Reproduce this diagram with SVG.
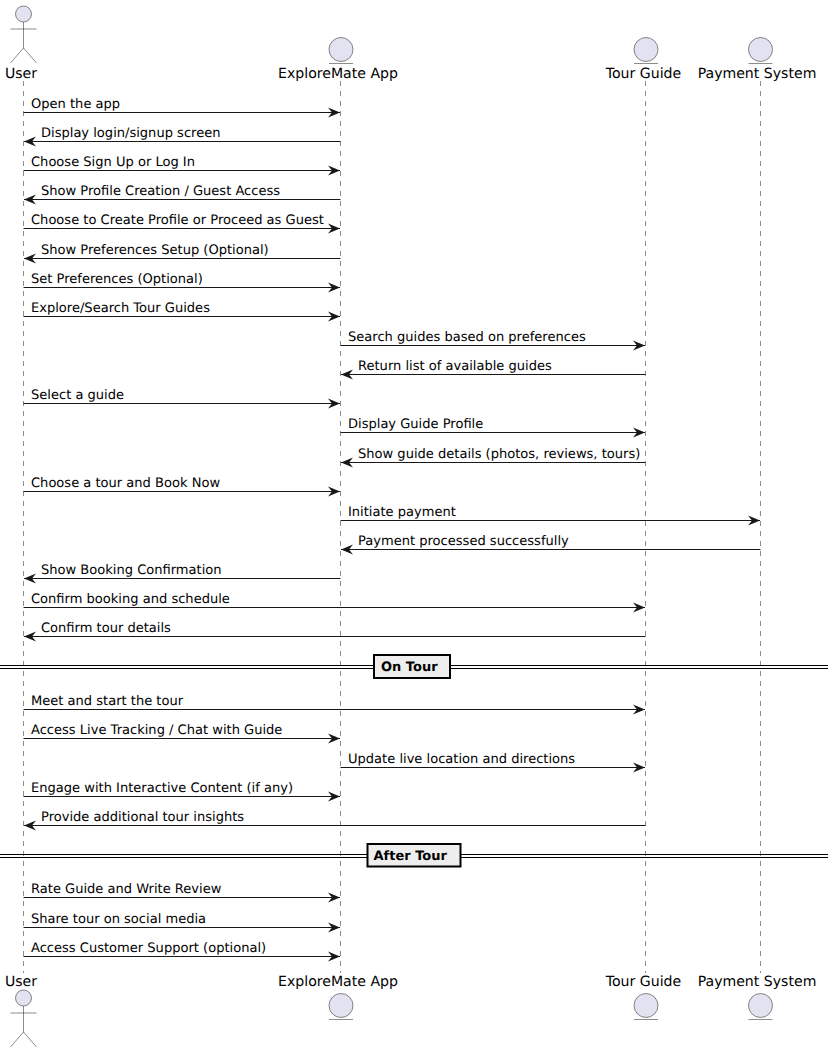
<svg xmlns="http://www.w3.org/2000/svg" width="833" height="1053" viewBox="0 0 833 1053">
<style>
text{font-family:"DejaVu Sans",sans-serif;fill:#000;text-rendering:geometricPrecision}
.m{font-size:13.050px}
.p{font-size:14.100px;text-anchor:middle}
.b{font-size:13px;font-weight:bold}
.life{stroke:#181818;stroke-width:.5;stroke-dasharray:5 5;fill:none}
.fig{fill:#E2E2F0;stroke:#181818;stroke-width:.5}
.msg{stroke:#181818;stroke-width:1;fill:none;marker-end:url(#arrow)}
.rule{stroke:#000;stroke-width:1;fill:none}
.div{fill:#EEEEEE;stroke:#000;stroke-width:2}
</style>
<defs>
<marker id="arrow" markerUnits="userSpaceOnUse" markerWidth="13" markerHeight="11" refX="12" refY="5" orient="auto" overflow="visible"><path d="M0 0L12 5L0 10L4 5Z" fill="#181818"/></marker>
<g id="actor"><circle class="fig" cx="23.5" cy="14" r="8"/><path class="fig" style="fill:none" d="M23.5 22V48M10.5 29H36.5M23.5 48L10.5 63M23.5 48L36.5 63"/></g>
<g id="entity"><circle class="fig" cx="0" cy="0" r="12"/><path class="fig" style="fill:none" d="M-12 14H12"/></g>
</defs>
<g id="lifelines">
<path class="life" d="M23.5 81V973M340.5 81V973M645.5 81V973M760.5 81V973"/>
</g>
<g id="connectors">
<path class="msg" d="M23.5 112.500H340"/>
<path class="msg" d="M340.500 141.500H24"/>
<path class="msg" d="M23.5 170.500H340"/>
<path class="msg" d="M340.500 199.500H24"/>
<path class="msg" d="M23.5 228.500H340"/>
<path class="msg" d="M340.500 258.500H24"/>
<path class="msg" d="M23.5 287.500H340"/>
<path class="msg" d="M23.5 316.500H340"/>
<path class="msg" d="M340.500 345.500H645"/>
<path class="msg" d="M645.500 374.500H341"/>
<path class="msg" d="M23.5 403.500H340"/>
<path class="msg" d="M340.500 432.500H645"/>
<path class="msg" d="M645.500 462.500H341"/>
<path class="msg" d="M23.5 491.500H340"/>
<path class="msg" d="M340.500 520.500H760"/>
<path class="msg" d="M760.500 549.500H341"/>
<path class="msg" d="M340.500 578.500H24"/>
<path class="msg" d="M23.5 607.500H645"/>
<path class="msg" d="M645.500 636.500H24"/>
<path class="msg" d="M23.5 709.500H645"/>
<path class="msg" d="M23.5 738.500H340"/>
<path class="msg" d="M340.500 767.500H645"/>
<path class="msg" d="M23.5 796.500H340"/>
<path class="msg" d="M645.500 825.500H24"/>
<path class="msg" d="M23.5 897.500H340"/>
<path class="msg" d="M23.5 927.500H340"/>
<path class="msg" d="M23.5 956.500H340"/>
</g>
<g id="labels">
<text class="m" x="31" y="107.700">Open the app</text>
<text class="m" x="41" y="136.700">Display login/signup screen</text>
<text class="m" x="31" y="165.700">Choose Sign Up or Log In</text>
<text class="m" x="41" y="194.700">Show Profile Creation / Guest Access</text>
<text class="m" x="31" y="223.700">Choose to Create Profile or Proceed as Guest</text>
<text class="m" x="41" y="253.700">Show Preferences Setup (Optional)</text>
<text class="m" x="31" y="282.700">Set Preferences (Optional)</text>
<text class="m" x="31" y="311.700">Explore/Search Tour Guides</text>
<text class="m" x="348" y="340.700">Search guides based on preferences</text>
<text class="m" x="358" y="369.700">Return list of available guides</text>
<text class="m" x="31" y="398.700">Select a guide</text>
<text class="m" x="348" y="427.700">Display Guide Profile</text>
<text class="m" x="358" y="457.700">Show guide details (photos, reviews, tours)</text>
<text class="m" x="31" y="486.700">Choose a tour and Book Now</text>
<text class="m" x="348" y="515.700">Initiate payment</text>
<text class="m" x="358" y="544.700">Payment processed successfully</text>
<text class="m" x="41" y="573.700">Show Booking Confirmation</text>
<text class="m" x="31" y="602.700">Confirm booking and schedule</text>
<text class="m" x="41" y="631.700">Confirm tour details</text>
<text class="m" x="31" y="704.700">Meet and start the tour</text>
<text class="m" x="31" y="733.700">Access Live Tracking / Chat with Guide</text>
<text class="m" x="348" y="762.700">Update live location and directions</text>
<text class="m" x="31" y="791.700">Engage with Interactive Content (if any)</text>
<text class="m" x="41" y="820.700">Provide additional tour insights</text>
<text class="m" x="31" y="892.700">Rate Guide and Write Review</text>
<text class="m" x="31" y="922.700">Share tour on social media</text>
<text class="m" x="31" y="951.700">Access Customer Support (optional)</text>
</g>
<g id="divider-on-tour">
<path class="rule" d="M0 665.500H828M0 668.500H828"/>
<rect class="div" x="374" y="655" width="76" height="23"/>
<text class="b" x="381" y="671">On Tour</text>
</g>
<g id="divider-after-tour">
<path class="rule" d="M0 854.500H828M0 857.500H828"/>
<rect class="div" x="367.500" y="844" width="93" height="22.500"/>
<text class="b" x="373.500" y="860">After Tour</text>
</g>
<g id="user">
<use href="#actor"/>
<text class="p" x="21" y="78">User</text>
<text class="p" x="21" y="986">User</text>
<use href="#actor" y="984"/>
</g>
<g id="exploremate-app">
<use href="#entity" x="341" y="49.500"/>
<text class="p" x="338" y="78">ExploreMate App</text>
<text class="p" x="338" y="986">ExploreMate App</text>
<use href="#entity" x="341" y="1005.500"/>
</g>
<g id="tour-guide">
<use href="#entity" x="646" y="49.500"/>
<text class="p" x="643.500" y="78">Tour Guide</text>
<text class="p" x="643.500" y="986">Tour Guide</text>
<use href="#entity" x="646" y="1005.500"/>
</g>
<g id="payment-system">
<use href="#entity" x="760.500" y="49.500"/>
<text class="p" x="757" y="78">Payment System</text>
<text class="p" x="757" y="986">Payment System</text>
<use href="#entity" x="760.500" y="1005.500"/>
</g>
</svg>
